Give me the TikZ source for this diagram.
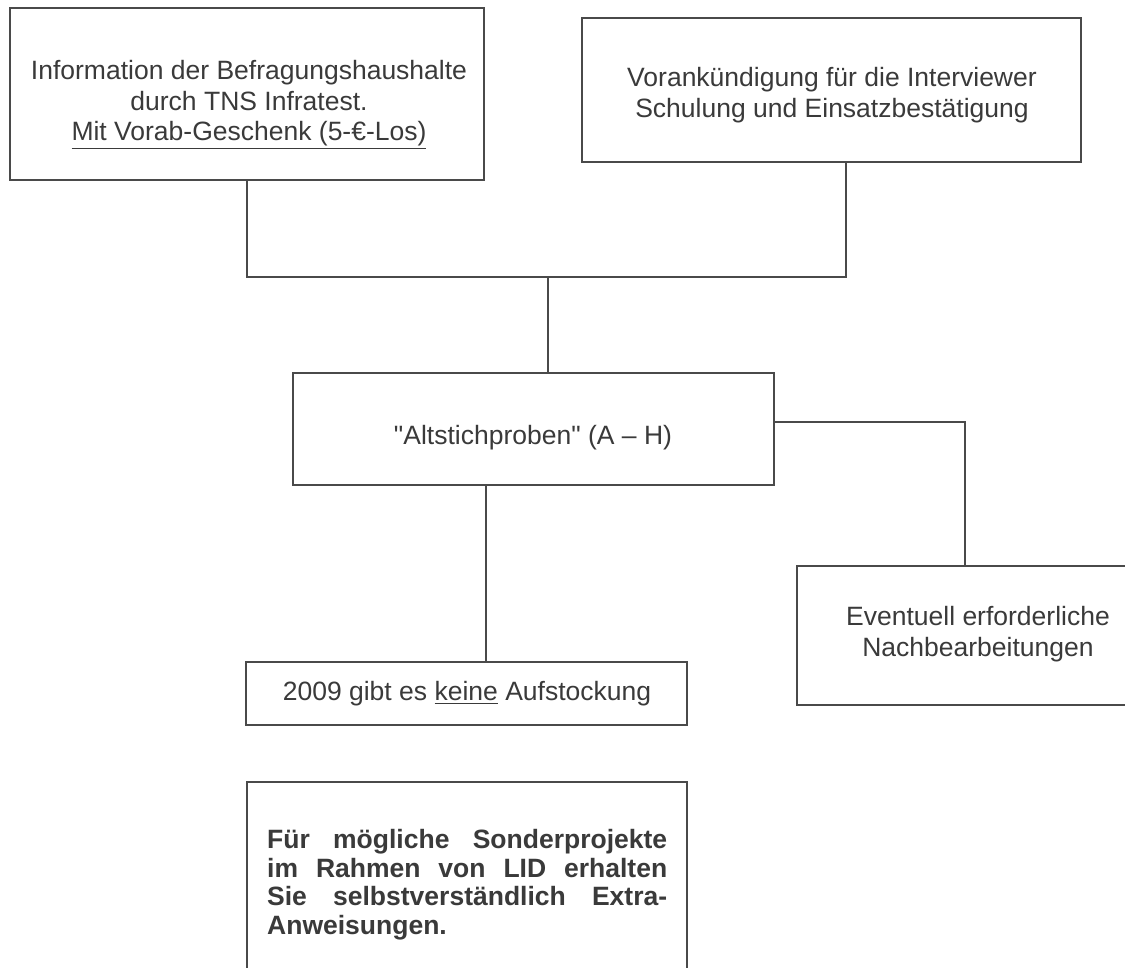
\documentclass[tikz,border=0pt]{standalone}
\usepackage{fontspec}
\setmainfont{Liberation Sans}[Ligatures=TeXOff]
\definecolor{ln}{HTML}{4A4A4A}
\definecolor{tx}{HTML}{3A3A3A}
\newcommand\myul[1]{\setbox0\hbox{#1}\dimen0=\dp0\relax\advance\dimen0 by 3pt\relax\rlap{\rule[-\dimen0]{\wd0}{1.4pt}}\box0\relax}
\begin{document}
\begin{tikzpicture}[x=1pt,y=-1pt,
  box/.style={draw=ln, line width=1.7pt, rectangle, inner sep=0pt},
  txt/.style={text=tx, align=center, inner sep=0pt, font=\fontsize{26.5}{30.5}\selectfont},
  btxt/.style={text=tx, align=left, inner sep=0pt, font=\bfseries\fontsize{26.5}{28.7}\selectfont},
  conn/.style={draw=ln, line width=1.7pt}]
\useasboundingbox (0,0) rectangle (1125,968);
\fill[white] (0,0) rectangle (1125,968);
\clip (0,0) rectangle (1125,968);
% boxes
\node[box, minimum width=474pt, minimum height=172pt] (b1) at (247,94) {};
\node[box, minimum width=499pt, minimum height=144pt] (b2) at (831.5,90) {};
\node[box, minimum width=481pt, minimum height=112pt] (b3) at (533.5,429) {};
\node[box, minimum width=362pt, minimum height=139pt] (b4) at (978,635.5) {};
\node[box, minimum width=441pt, minimum height=63pt] (b5) at (466.5,693.5) {};
\node[box, minimum width=440pt, minimum height=220pt] (b6) at (467,892) {};
% texts
\node[txt] (t1) at (249,105) {Information der Befragungshaushalte\\durch TNS Infratest.\\\myul{Mit Vorab-Geschenk (5-€-Los)}};
\node[txt] (t2) at (832,95) {Vorankündigung für die Interviewer\\Schulung und Einsatzbestätigung};
\node[txt] (t3) at (533,438) {"Altstichproben" (A – H)};
\node[txt] (t4) at (978,634) {Eventuell erforderliche\\Nachbearbeitungen};
\node[txt] (t5) at (467,694) {2009 gibt es \myul{keine} Aufstockung};
\node[btxt, anchor=north west] (t6) at (267,829) {\makebox[400pt][s]{Für mögliche Sonderprojekte}\\\makebox[400pt][s]{im Rahmen von LID erhalten}\\\makebox[400pt][s]{Sie selbstverständlich Extra-}\\Anweisungen.};
% connectors
\coordinate (j) at (548,277);
\coordinate (b2c) at ([xshift=14.5pt]b2.south);
\coordinate (b3r) at ([yshift=7pt]b3.east);
\coordinate (b4c) at ([xshift=-13pt]b4.north);
\coordinate (b3b) at ([xshift=-47.5pt]b3.south);
\draw[conn] (b1.south) -- (b1.south |- j) -- (b2c |- j) -- (b2c);
\draw[conn] (j) -- (j |- b3.north);
\draw[conn] (b3r) -- (b3r -| b4c) -- (b4c);
\draw[conn] (b3b) -- (b3b |- b5.north);
\end{tikzpicture}
\end{document}
